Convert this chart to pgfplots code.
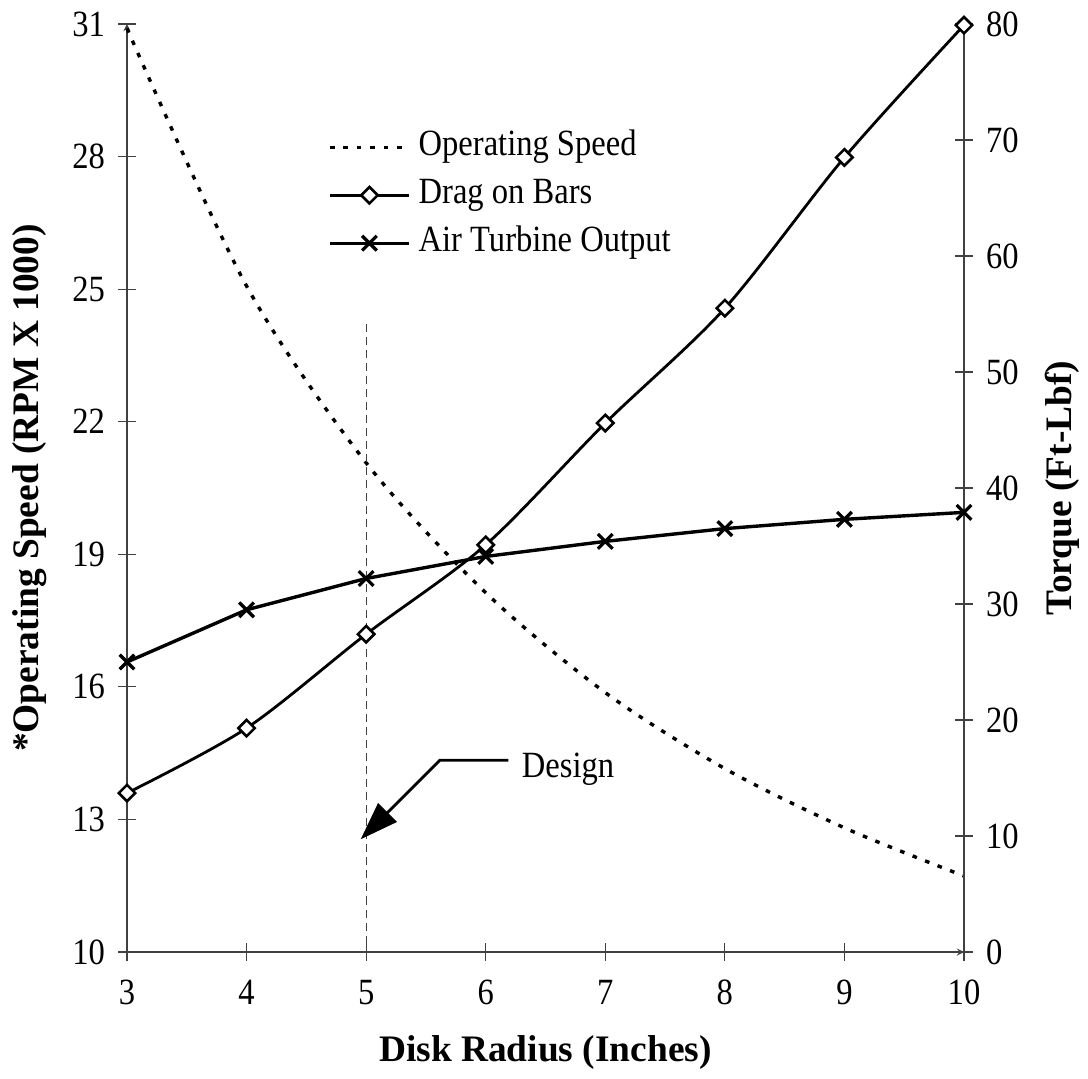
\documentclass[border=0pt]{standalone}
\usepackage{fontspec}
\setmainfont{Liberation Serif}[FakeStretch=0.88]
\newfontfamily\labelfont{Liberation Serif}
\usepackage{pgfplots}
\pgfplotsset{compat=1.18}
\usetikzlibrary{arrows.meta}
\newcommand{\tfont}{\fontsize{18.5}{21}\selectfont}
\newcommand{\lfont}{\labelfont\bfseries\fontsize{18.7}{22}\selectfont}
\pgfplotsset{
  common/.style={
    at={(0,0)}, anchor=south west, scale only axis,
    width=418.5pt, height=464pt,
    xmin=3, xmax=10, clip=false,
    axis line style={-, black!75, line width=0.6pt},
    tick style={black!75, line width=0.6pt},
    tick align=center, major tick length=9pt,
    tick label style={font=\tfont},
    /pgf/number format/assume math mode=true,
  },
}
\begin{document}
\begin{tikzpicture}
\begin{axis}[common,
  ymin=10, ymax=31,
  xtick={3,4,...,10}, ytick={10,13,...,31},
  axis x line=bottom, axis y line=left,
  xticklabel style={yshift=-6pt},
  yticklabel style={xshift=-3pt},
  xlabel={\lfont Disk Radius (Inches)},
  ylabel={\lfont *Operating Speed (RPM X 1000)},
  xlabel style={at={(axis description cs:0.5,-0.108)}, anchor=center},
  ylabel style={at={(axis description cs:-0.116,0.5)}, anchor=center},
]
\addplot[black, line width=1.7pt, dash pattern=on 2.3pt off 4.4pt, smooth] coordinates {
 (3,30.9) (4,25.07) (5,21.07) (6,18.13) (7,15.87) (8,14.15) (9,12.81) (10,11.72)};
\draw[black!75, line width=0.5pt, dash pattern=on 4pt off 2.5pt] (axis cs:5,24.2) -- (axis cs:5,10);
\draw[black, line width=1.4pt, -{Triangle[length=19pt,width=13pt]}]
  (axis cs:6.19,14.34) -- (axis cs:5.617,14.34) -- (axis cs:4.954,12.55);
\node[anchor=base west, inner sep=0pt, font=\tfont] at (axis cs:6.30,13.96) {Design};
\end{axis}
\begin{axis}[common,
  ymin=0, ymax=80, ytick={0,10,...,80},
  axis x line=none, axis y line=right,
  yticklabel style={xshift=3pt},
  ylabel={\lfont Torque (Ft-Lbf)},
  ylabel style={at={(axis description cs:1.117,0.5)}, anchor=center},
  legend cell align=left,
  legend style={at={(axis description cs:0.240,0.8876)}, anchor=north west,
    draw=none, fill=none, inner sep=0pt, row sep=5.5pt, column sep=3pt,
    font=\tfont, nodes={inner sep=1pt, text height=12.5pt, text depth=4pt}},
  legend image code/.code={\draw[mark repeat=2,mark phase=2,#1] plot coordinates {(0pt,0pt) (19.75pt,0pt) (39.5pt,0pt)};},
]
\addlegendimage{black, line width=1.7pt, dash pattern=on 2.3pt off 4.4pt}
\addlegendentry{Operating Speed}
\addplot[black, line width=1.4pt, smooth, mark=square*, mark size=2.9pt,
  mark options={fill=white, line width=1.3pt, solid, rotate=45}] coordinates {
 (3,13.7) (4,19.3) (5,27.4) (6,35.1) (7,45.6) (8,55.5) (9,68.5) (10,79.9)};
\addlegendentry{Drag on Bars}
\addplot[black, line width=1.7pt, mark=x, mark size=5.2pt,
  mark options={line width=1.6pt, solid}] coordinates {
 (3,25.0) (4,29.5) (5,32.2) (6,34.1) (7,35.4) (8,36.5) (9,37.3) (10,37.9)};
\addlegendentry{Air Turbine Output}
\end{axis}
\pgfresetboundingbox
\path[use as bounding box] (-63.5pt,-63pt) rectangle (480.5pt,476pt);
\end{tikzpicture}
\end{document}
